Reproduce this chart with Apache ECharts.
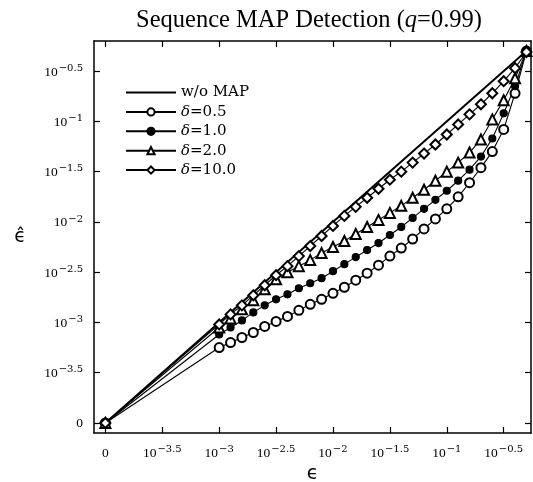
<!DOCTYPE html>
<html>
<head>
<meta charset="utf-8">
<script src="https://cdn.jsdelivr.net/npm/echarts@6/dist/echarts.min.js"></script>
<style>
  html, body { margin: 0; padding: 0; background: #fff; }
  #chart { width: 533px; height: 482px; }
</style>
</head>
<body>
<div id="chart"></div>
<script>
// log10 values; -4 stands in for the "0" point left of the axis break
const epsLog = [-4, -3.0, -2.9, -2.8, -2.7, -2.6, -2.5, -2.4, -2.3, -2.2, -2.1, -2.0, -1.9, -1.8, -1.7,
  -1.6, -1.5, -1.4, -1.3, -1.2, -1.1, -1.0, -0.9, -0.8, -0.7, -0.6, -0.5, -0.4, -0.3]

const noMapEps = [-4, -0.3]
const noMapHat = [-4, -0.3]

const delta05 = [-4, -3.25, -3.20, -3.15, -3.10, -3.04, -2.99, -2.94, -2.88, -2.82, -2.77, -2.71, -2.65, -2.58, -2.51,
  -2.43, -2.34, -2.26, -2.17, -2.07, -1.97, -1.87, -1.75, -1.61, -1.46, -1.30, -1.08, -0.72, -0.30]
const delta10 = [-4, -3.12, -3.05, -2.98, -2.90, -2.83, -2.77, -2.72, -2.66, -2.61, -2.56, -2.49, -2.42, -2.35, -2.28,
  -2.21, -2.13, -2.05, -1.96, -1.87, -1.78, -1.69, -1.59, -1.48, -1.35, -1.17, -0.92, -0.65, -0.30]
const delta20 = [-4, -3.05, -2.96, -2.87, -2.78, -2.67, -2.57, -2.50, -2.44, -2.38, -2.31, -2.25, -2.19, -2.12, -2.05,
  -1.98, -1.91, -1.84, -1.76, -1.68, -1.59, -1.50, -1.41, -1.31, -1.18, -0.98, -0.79, -0.57, -0.30]
const delta100 = [-4, -3.02, -2.92, -2.83, -2.73, -2.63, -2.53, -2.44, -2.34, -2.24, -2.14, -2.04, -1.94, -1.85, -1.76,
  -1.67, -1.58, -1.50, -1.41, -1.32, -1.23, -1.13, -1.03, -0.93, -0.83, -0.72, -0.60, -0.47, -0.31]

const tickVals = [-4, -3.5, -3, -2.5, -2, -1.5, -1, -0.5]
const tickExps = ['0', '−3.5', '−3', '−2.5', '−2', '−1.5', '−1', '−0.5']

const serif = 'Liberation Serif'
const wideSerif = 'DejaVu Serif'

function pairs(xs, ys) {
  return xs.map((x, i) => [x, ys[i]])
}

function tickLabel(v) {
  const i = tickVals.findIndex(t => Math.abs(t - v) < 1e-6)
  if (i < 0) return ''
  if (tickExps[i] === '0') return '{b|0}'
  return '{b|10}{s|' + tickExps[i] + '}'
}

const labelRich = {
  b: { fontFamily: serif, fontSize: 13.5, color: '#000', lineHeight: 16, verticalAlign: 'bottom' },
  s: { fontFamily: wideSerif, fontSize: 10, color: '#000', lineHeight: 9, verticalAlign: 'top', padding: [0, 0, 0, 1] }
}

function makeAxis(pos, min, max, showLabel) {
  return {
    type: 'value',
    position: pos,
    min: min,
    max: max,
    splitLine: { show: false },
    axisLine: { show: true, onZero: false, lineStyle: { color: '#000', width: 1.5 } },
    axisTick: { show: true, inside: true, length: 6, customValues: tickVals, lineStyle: { color: '#000', width: 1.2 } },
    axisLabel: {
      show: showLabel,
      customValues: tickVals,
      formatter: tickLabel,
      rich: labelRich,
      margin: 11
    }
  }
}

const chart = echarts.init(document.getElementById('chart'))

const xBottom = makeAxis('bottom', -4.1, -0.26, true)
xBottom.name = 'ϵ'
xBottom.nameLocation = 'middle'
xBottom.nameGap = 28
xBottom.nameTextStyle = { fontFamily: 'DejaVu Sans', fontSize: 19, color: '#000' }
const xTop = makeAxis('top', -4.1, -0.26, false)

const yLeft = makeAxis('left', -4.1, -0.2, true)
yLeft.name = 'ϵ\u0302'
yLeft.nameLocation = 'middle'
yLeft.nameRotate = 0
yLeft.nameGap = 68
yLeft.nameTextStyle = { fontFamily: 'DejaVu Sans', fontSize: 19, color: '#000' }
const yRight = makeAxis('right', -4.1, -0.2, false)

function markSeries(name, ys, symbol, size) {
  return {
    name: name,
    type: 'line',
    data: pairs(epsLog, ys),
    symbol: symbol,
    symbolSize: size,
    showSymbol: true,
    lineStyle: { color: '#000', width: 1.1 },
    itemStyle: { color: '#000', borderColor: '#000', borderWidth: 1.2 },
    emphasis: { disabled: true },
    animation: false
  }
}

const option = {
  backgroundColor: '#fff',
  animation: false,
  title: {
    text: '{n|Sequence MAP Detection (}{i|q}{n|=0.99)}',
    left: 304,
    top: 3,
    textAlign: 'center',
    textStyle: {
      fontWeight: 'normal',
      rich: {
        n: { fontFamily: serif, fontSize: 24.5, fontWeight: 'normal', color: '#000' },
        i: { fontFamily: serif, fontSize: 24.5, fontWeight: 'normal', fontStyle: 'italic', color: '#000' }
      }
    }
  },
  legend: {
    orient: 'vertical',
    left: 125,
    top: 85,
    padding: 0,
    itemWidth: 50,
    itemHeight: 9,
    itemGap: 4.4,
    data: [
      { name: 'w/o MAP', icon: 'path://M0,0 L50,0 L50,2 L0,2 Z' },
      'δ=0.5', 'δ=1.0', 'δ=2.0', 'δ=10.0'
    ],
    formatter: function (name) {
      if (name.charAt(0) === 'δ') return '{i|δ}{n|' + name.slice(1) + '}'
      return '{n|' + name + '}'
    },
    textStyle: {
      rich: {
        n: { fontFamily: wideSerif, fontSize: 15, color: '#000' },
        i: { fontFamily: wideSerif, fontSize: 15, fontStyle: 'italic', color: '#000' }
      }
    }
  },
  grid: { left: 94, right: 2, top: 41, bottom: 49, containLabel: false, outerBoundsMode: 'none' },
  xAxis: [xBottom, xTop],
  yAxis: [yLeft, yRight],
  series: [
    {
      name: 'w/o MAP',
      type: 'line',
      data: pairs(noMapEps, noMapHat),
      symbol: 'none',
      lineStyle: { color: '#000', width: 2 },
      itemStyle: { color: '#000' },
      emphasis: { disabled: true },
      animation: false
    },
    markSeries('δ=0.5', delta05, 'emptyCircle', 9),
    markSeries('δ=1.0', delta10, 'circle', 7),
    markSeries('δ=2.0', delta20, 'emptyTriangle', 10),
    markSeries('δ=10.0', delta100, 'emptyDiamond', 10)
  ]
}

chart.setOption(option)
</script>
</body>
</html>
